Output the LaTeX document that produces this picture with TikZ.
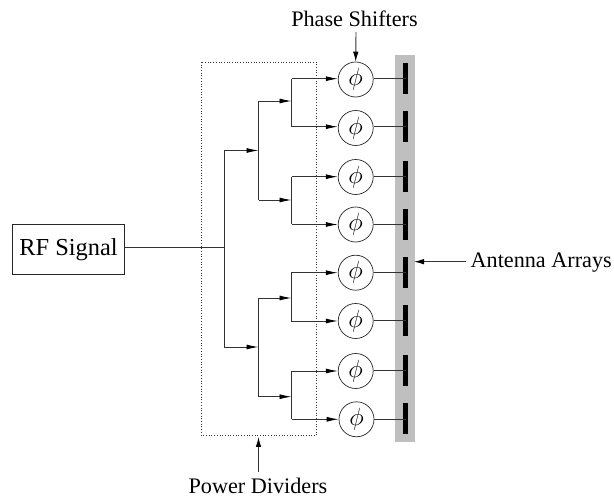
\documentclass[tikz,border=0pt]{standalone}
\usepackage{fontspec}
\setmainfont{Liberation Serif}
\usepackage{amsmath}
\usetikzlibrary{arrows.meta}
\tikzset{
  x=1pt,y=-1pt,
  wire/.style={line width=0.9pt,draw=black!80},
  feed/.style={wire,-{Latex[length=12pt,width=5pt,black]}},
  pointer/.style={wire,-{Latex[length=10pt,width=5.5pt,black]}},
  lab/.style={font=\fontsize{22.2}{26}\selectfont,inner sep=0pt},
  phase/.style={circle,draw=black!85,line width=0.7pt,minimum size=35pt,inner sep=0pt,font=\fontsize{24.88}{28}\selectfont},
  ant/.style={fill=black,draw=none,minimum width=4.5pt,minimum height=31pt,inner sep=0pt},
}
\begin{document}
\begin{tikzpicture}
\useasboundingbox (0,0) rectangle (614,497);
\fill[black!25] (395,55) rectangle (415,442);
\draw[line width=0.7pt,dotted,black!80] (201.7,62) rectangle (316,435.7);
\node[draw=black!85,line width=0.9pt,minimum width=112pt,minimum height=50pt,inner sep=0pt,font=\fontsize{24.4}{28}\selectfont] (rf) at (68.5,249.5) {\raisebox{-1.5pt}{RF Signal}};
\coordinate (root) at (224,247.3);
\draw[wire] (rf.east |- root) -- (root);
% level 1
\coordinate (a) at (224,150.5); \coordinate (b) at (224,347);
\draw[wire] (a) -- (b);
\coordinate (a1) at (258.5,150.5); \coordinate (b1) at (258.5,347);
\draw[feed] (a) -- (a1);
\draw[feed] (b) -- (b1);
% level 2
\coordinate (c) at (258.5,101); \coordinate (d) at (258.5,200);
\coordinate (e) at (258.5,298); \coordinate (f) at (258.5,396.7);
\draw[wire] (c) -- (d);
\draw[wire] (e) -- (f);
\foreach \n/\y in {c/101,d/200,e/298,f/396.7}{
  \coordinate (\n1) at (291.5,\y);
  \draw[feed] (\n) -- (\n1);
}
\draw[wire] (291.5,78.7) coordinate (g1) -- (291.5,126.7) coordinate (g2);
\draw[wire] (291.5,176.7) coordinate (g3) -- (291.5,224.5) coordinate (g4);
\draw[wire] (291,272.7) coordinate (g5) -- (291,321) coordinate (g6);
\draw[wire] (291.5,371) coordinate (g7) -- (291.5,419.3) coordinate (g8);
\foreach \i/\x/\y/\ya in {1/355.7/79.5/78.5,2/355.7/128/126.5,3/355.7/177/176.5,4/355.7/224.5/224.5,5/355.7/272.7/272.5,6/355.7/321/320.8,7/355.7/371/370.5,8/356.5/419.3/419}{
  \node[phase] (p\i) at (\x,\y) {$\phi$};
  \node[ant] (t\i) at (405.7,\ya) {};
  \draw[feed] (g\i) -- (p\i.west |- g\i);
  \draw[wire] (p\i.east |- t\i) -- (t\i.center);
}
\node[lab] (ps) at (354.5,19) {Phase Shifters};
\coordinate (psa) at (356,32);
\draw[pointer] (psa) -- (p1.north);
\node[lab] (pd) at (258,485.5) {Power Dividers};
\coordinate (pdt) at (258.5,472);
\coordinate (pdh) at (258.5,437);
\draw[pointer] (pdt) -- (pdh);
\node[lab,anchor=east] (aa) at (612,263) {Antenna Arrays};
\coordinate (aat) at (466,261.7);
\coordinate (aah) at (414,261.7);
\draw[pointer] (aat) -- (aah);
\end{tikzpicture}
\end{document}
